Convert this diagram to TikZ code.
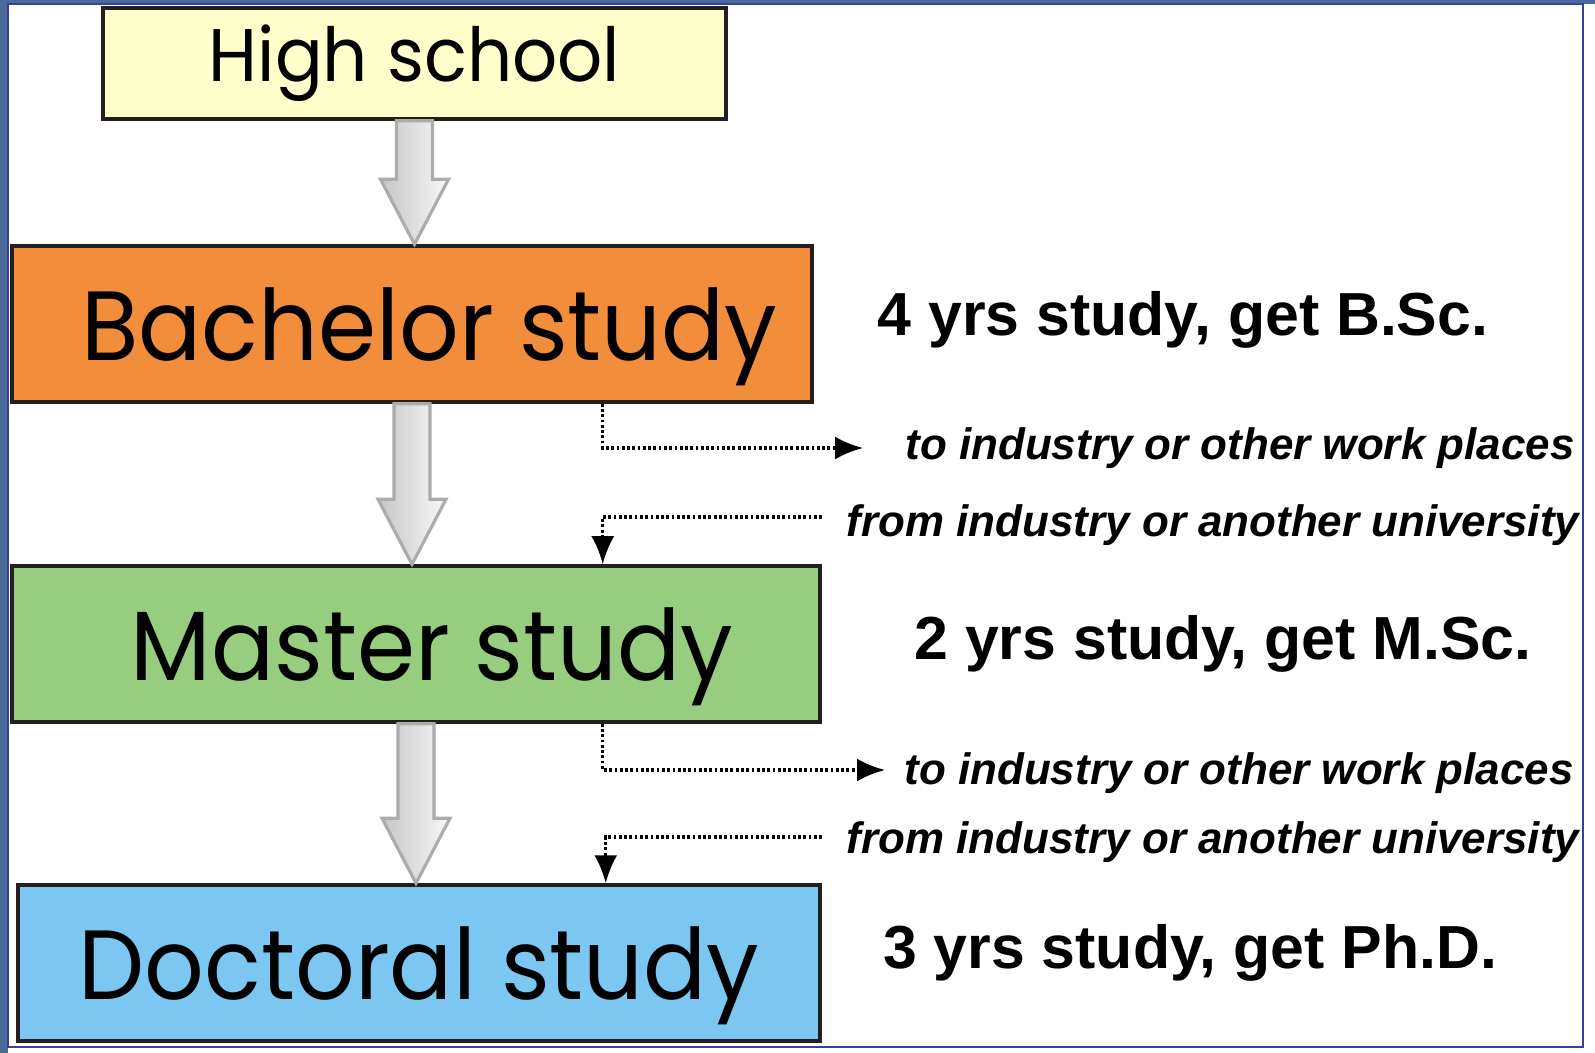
\documentclass[tikz,border=0pt]{standalone}
\usepackage{fontspec}
\setmainfont{Liberation Sans}
\newfontfamily\gothicfont[FakeStretch=0.95]{Poppins}
\usepackage{tikz}
\usetikzlibrary{calc, positioning}
\usetikzlibrary{arrows.meta}
\tikzset{>={Latex[length=2.8mm,width=2.3mm]}}
\usepackage{xcolor}
\definecolor{frameblue}{HTML}{4A6A98}
\definecolor{panelline}{HTML}{3B3F9A}
\definecolor{boxline}{HTML}{231F20}
\definecolor{hsyellow}{HTML}{FFFFCC}
\definecolor{bachorange}{HTML}{F28D3B}
\definecolor{mastgreen}{HTML}{96CD7F}
\definecolor{doctblue}{HTML}{7CC6F2}
\tikzset{
	stage/.style={draw=boxline, line width=1pt, inner sep=0pt, text depth=0pt, font=\gothicfont\fontsize{28}{28}\selectfont},
	info/.style={anchor=base, font=\bfseries\fontsize{17.3}{17.3}\selectfont},
	route/.style={anchor=base, font=\bfseries\itshape\fontsize{12.5}{12.5}\selectfont},
	flow/.style={->, line width=0.9pt, dash pattern=on 0.8pt off 0.7pt},
	bigarrow/.style={draw=gray!65, line width=0.9pt, left color=gray!45, right color=gray!5}
}
\newcommand{\stagearrow}[2]{%
	\path[bigarrow] ($(#1)+(-18,0)$) -- ($(#2)+(-18,-65)$) -- ($(#2)+(-34,-65)$) -- (#2)
		-- ($(#2)+(34,-65)$) -- ($(#2)+(18,-65)$) -- ($(#1)+(18,0)$) -- cycle;}

\begin{document}
\begin{tikzpicture}[x=0.1mm, y=-0.1mm]
			\useasboundingbox (0,0) rectangle (1595,1053);
			\fill[white] (0,0) rectangle (1595,1053);
			\fill[frameblue] (0,0) rectangle (8,1053);
			\fill[frameblue] (0,0) rectangle (1595,4);
			\draw[panelline, line width=0.8pt] (8,4) rectangle (1583,1047);
			\node[stage, fill=hsyellow, minimum width=62.3mm, minimum height=11.1mm, text depth=, font=\gothicfont\fontsize{21.2}{21.2}\selectfont] (hs) at (414.5,63.5) {High school};
			\node[stage, fill=bachorange, minimum width=80mm, minimum height=15.6mm] (bach) at (412,324) {\hspace*{3.5mm}Bachelor study};
			\node[stage, fill=mastgreen, minimum width=80.8mm, minimum height=15.6mm] (mast) at (416,644) {\hspace*{3.2mm}Master study};
			\node[stage, fill=doctblue, minimum width=80.2mm, minimum height=15.6mm] (doct) at (419,963) {Doctoral study};
			\coordinate (t1) at (hs.south |- bach.north);
			\coordinate (t2) at (bach.south |- mast.north);
			\coordinate (t3) at (mast.south |- doct.north);
			\stagearrow{hs.south}{t1}
			\stagearrow{bach.south}{t2}
			\stagearrow{mast.south}{t3}
			\node[info] (bsc) at (1183,335) {4 yrs study, get B.Sc.};
			\node[info] (msc) at (1223,659) {2 yrs study, get M.Sc.};
			\node[info] (phd) at (1190,968) {3 yrs study, get Ph.D.};
			\node[route] (outA) at (1240,459) {to industry or other work places};
			\node[route] (inA) at (1213,536) {from industry or another university};
			\node[route] (outB) at (1239,784) {to industry or other work places};
			\node[route] (inB) at (1213,853) {from industry or another university};
			\coordinate (toA) at (863,448);
			\coordinate (fromA) at (822,517);
			\coordinate (toB) at (885,770);
			\coordinate (fromB) at (822,837);
			\draw[flow] ([xshift=-21.1mm]bach.south east) |- (toA);
			\draw[flow] (fromA) -| ([xshift=-21.9mm]mast.north east);
			\draw[flow] ([xshift=-21.9mm]mast.south east) |- (toB);
			\draw[flow] (fromB) -| ([xshift=-21.6mm]doct.north east);
		\end{tikzpicture}
\end{document}
